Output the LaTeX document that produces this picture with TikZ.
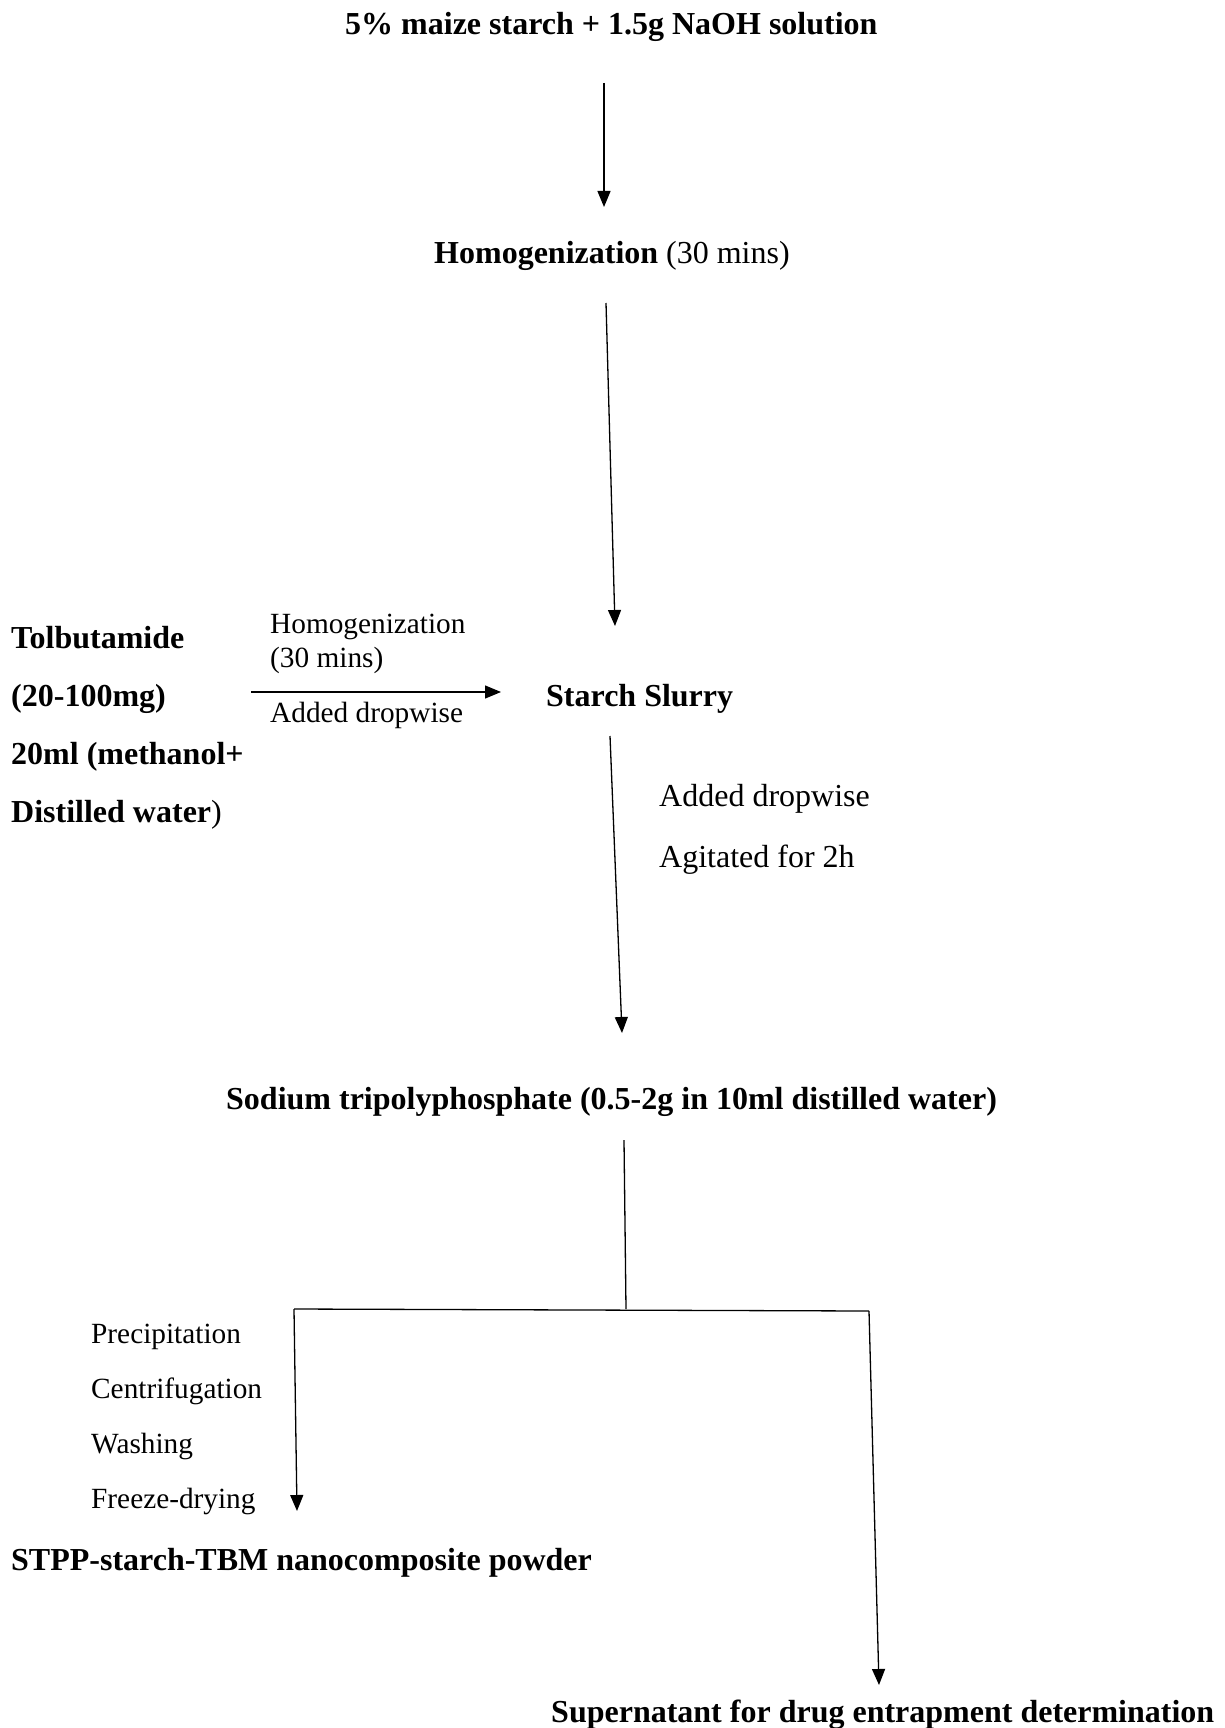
\documentclass[tikz,border=0pt]{standalone}
\usepackage{fontspec}
\setmainfont{Liberation Serif}
\usetikzlibrary{arrows.meta}
\tikzset{
  txt/.style={anchor=base west, inner sep=0pt, font=\fontsize{32}{38}\selectfont},
  stxt/.style={anchor=base west, inner sep=0pt, font=\fontsize{29.3}{35}\selectfont},
  btxt/.style={txt, font=\fontsize{32}{38}\selectfont\bfseries},
  arr/.style={line width=1.3pt, -{Triangle[length=16pt,width=13pt]}},
  ln/.style={line width=1.3pt}
}
\begin{document}
\begin{tikzpicture}[x=1pt,y=-1pt]
\useasboundingbox (0,0) rectangle (1225,1728);
% texts
\node[btxt] (t1) at (345,35) {5\% maize starch + 1.5g NaOH solution};
\node[txt] (t2) at (434,264) {\textbf{Homogenization} (30 mins)};
\node[btxt] (l1) at (11,648) {Tolbutamide};
\node[btxt] (l2) at (11,706) {(20-100mg)};
\node[btxt] (l3) at (11,764) {20ml (methanol+};
\node[btxt] (l4) at (11,822) {Distilled water\textmd{)}};
\node[stxt] (h1) at (270,633) {Homogenization};
\node[stxt] (h2) at (270,667) {(30 mins)};
\node[stxt] (h3) at (270,722) {Added dropwise};
\node[btxt] (ss) at (546,706) {Starch Slurry};
\node[txt] (a1) at (659,806) {Added dropwise};
\node[txt] (a2) at (659,867) {Agitated for 2h};
\node[btxt] (st) at (226,1109) {Sodium tripolyphosphate (0.5-2g in 10ml distilled water)};
\node[stxt] (p1) at (91,1343) {Precipitation};
\node[stxt] (p2) at (91,1398) {Centrifugation};
\node[stxt] (p3) at (91,1453) {Washing};
\node[stxt] (p4) at (91,1508) {Freeze-drying};
\node[btxt] (pw) at (11,1570) {STPP-starch-TBM nanocomposite powder};
\node[btxt] (su) at (551,1722) {Supernatant for drug entrapment determination};
% coordinates
\coordinate (c1s) at (604,83);
\coordinate (c1e) at (604,207);
\coordinate (c2s) at (606,303);
\coordinate (c2e) at (615,626);
\coordinate (chs) at (251,692);
\coordinate (che) at (501,692);
\coordinate (c3s) at (610,736);
\coordinate (c3e) at (622,1033);
\coordinate (c4s) at (624,1140);
\coordinate (c4e) at (626,1309);
\coordinate (bl) at (294,1309);
\coordinate (br) at (869,1311);
\coordinate (ble) at (297,1511);
\coordinate (bre) at (879,1685);
% connectors
\draw[arr] (c1s) -- (c1e);
\draw[arr] (c2s) -- (c2e);
\draw[arr] (chs) -- (che);
\draw[arr] (c3s) -- (c3e);
\draw[ln] (c4s) -- (c4e);
\draw[ln] (bl) -- (br);
\draw[arr] (bl) -- (ble);
\draw[arr] (br) -- (bre);
\end{tikzpicture}
\end{document}
